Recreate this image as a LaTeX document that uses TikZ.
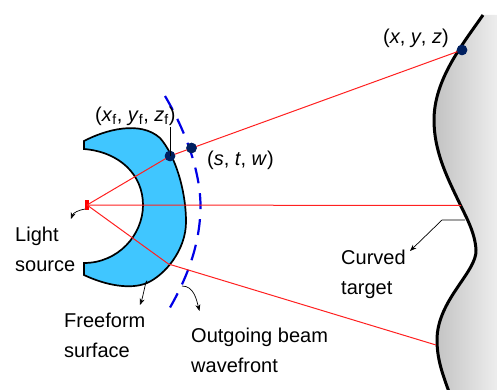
\documentclass[tikz,border=0pt]{standalone}
\usepackage{fontspec}
\setmainfont{Liberation Sans}
\usetikzlibrary{arrows.meta,positioning,calc}
\definecolor{cA}{HTML}{002060}
\definecolor{cB}{HTML}{40C6FF}
\definecolor{cC}{HTML}{0000E6}
\definecolor{cD}{HTML}{FF2020}
\tikzset{
  dot/.style={circle,fill=cA,inner sep=0pt,minimum size=10.5pt},
  lamp/.style={rectangle,fill=red,inner sep=0pt,minimum width=3.5pt,minimum height=10pt},
  lbl/.style={inner sep=0pt,align=left,anchor=west,font=\fontsize{20}{30}\selectfont},
  ray/.style={cD,line width=1pt},
  leader/.style={-{Stealth[length=6.5pt,width=5pt]},line width=.7pt},
  wave/.style={cC,line width=2.2pt,dash pattern=on 16pt off 10pt},
}
\begin{document}
\begin{tikzpicture}[x=1pt,y=-1pt]
  \useasboundingbox (0,0) rectangle (497,390);
  % curved target
  \shade[left color=black!24,right color=black!7,shading angle=90]
    (483,15) .. controls (462,45) and (434,80) .. (434,120)
    .. controls (434,150) and (446,175) .. (458,200)
    .. controls (466,217) and (475,232) .. (476,250)
    .. controls (477,272) and (437,300) .. (437,340)
    .. controls (437,360) and (443,375) .. (449,392)
    -- (497,392) -- (497,15) -- cycle;
  \draw[line width=3pt]
    (483,15) .. controls (462,45) and (434,80) .. (434,120)
    .. controls (434,150) and (446,175) .. (458,200)
    .. controls (466,217) and (475,232) .. (476,250)
    .. controls (477,272) and (437,300) .. (437,340)
    .. controls (437,360) and (443,375) .. (449,392);
  % freeform lens
  \draw[fill=cB,line width=1.7pt]
    (84,141) .. controls (105,130) and (140,120) .. (160,138)
    .. controls (175,155) and (186,190) .. (186,222)
    .. controls (186,250) and (165,275) .. (147,283)
    .. controls (130,290) and (105,285) .. (84,275)
    -- (84,263) .. controls (118,263) and (143,235) .. (143,205)
    .. controls (143,175) and (120,152) .. (84,149) -- cycle;
  \draw[wave] (165,96) .. controls (185,130) and (200,170) .. (200.5,205)
    .. controls (200.5,240) and (190,275) .. (165,316);
  % rays
  \node[lamp] (lamp) at (87,205) {};
  \node[dot] (xf) at (170,156) {};
  \node[dot] (st) at (191.5,148) {};
  \node[dot] (xyz) at (462,50) {};
  \coordinate (hitA) at (461,205.5);
  \coordinate (bend) at (168.5,264);
  \coordinate (hitB) at (436,345);
  \draw[ray] (lamp.center) -- (xf.center) -- (xyz.center);
  \draw[ray] (lamp.center) -- (hitA);
  \draw[ray] (lamp.center) -- (bend) -- (hitB);
  \node[dot] at (xf) {};
  \node[dot] at (st) {};
  \node[dot] at (xyz) {};
  % labels
  \node[lbl] (xftxt) at (95,116) {(\textit{x}\textsubscript{f}, \textit{y}\textsubscript{f}, \textit{z}\textsubscript{f})};
  \node[lbl] (sttxt) at (207,160) {(\textit{s}, \textit{t}, \textit{w})};
  \node[lbl] (xyztxt) at (383,38) {(\textit{x}, \textit{y}, \textit{z})};
  \node[lbl] (srctxt) at (15,249) {Light\\source};
  \node[lbl] (fftxt) at (64,335.5) {Freeform\\surface};
  \node[lbl] (wftxt) at (191,350) {Outgoing beam\\wavefront};
  \node[lbl] (cttxt) at (341,274) {Curved\\target};
  % leaders
  \coordinate (srcA) at (85,209);
  \coordinate (srcB) at (71,219);
  \coordinate (ffA) at (147,283);
  \coordinate (ffB) at (140,305);
  \coordinate (wfA) at (182,286);
  \coordinate (wfB) at (199.5,311);
  \coordinate (ctA) at (465,220);
  \coordinate (ctB) at (442,220);
  \coordinate (ctC) at (410,251);
  \draw[line width=.8pt] (xf.center) -- ++(0,-29);
  \draw[leader] (srcA) to[out=190,in=70] (srcB);
  \draw[leader] (ffA) to[out=90,in=70] (ffB);
  \draw[leader] (wfA) to[out=0,in=105] (wfB);
  \draw[leader] (ctA) -- (ctB) -- (ctC);
\end{tikzpicture}
\end{document}
